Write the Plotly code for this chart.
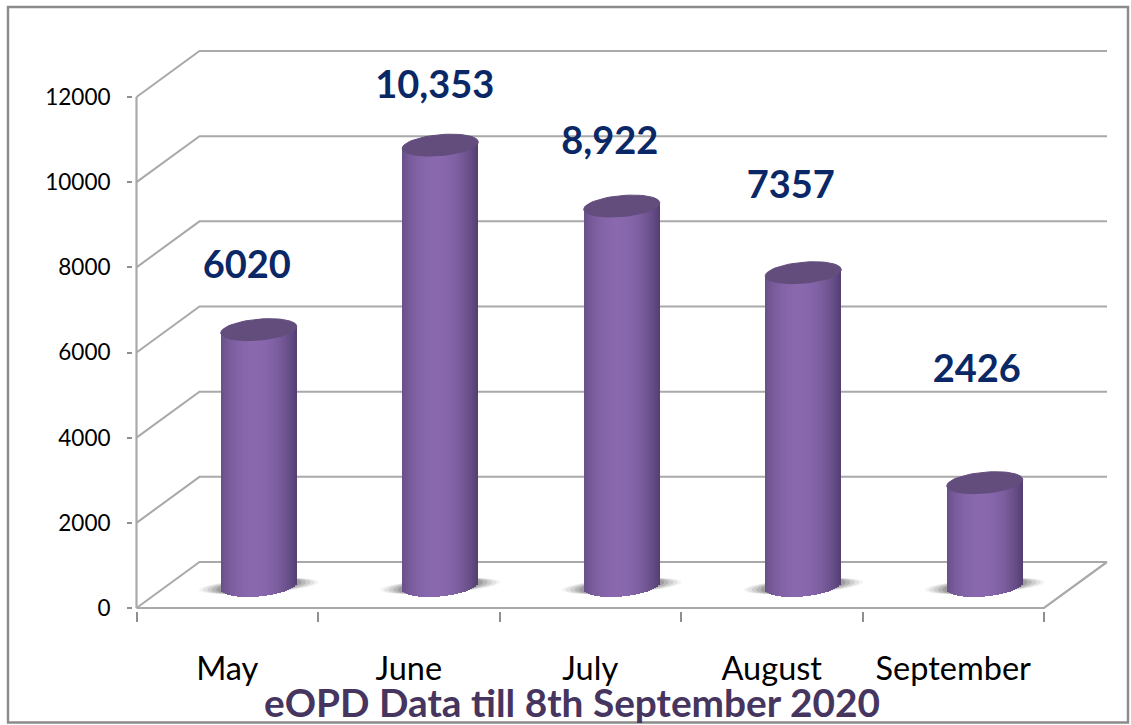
import math
import plotly.graph_objects as go

# ---- data
months = ["May", "June", "July", "August", "September"]
patients = [6020, 10353, 8922, 7357, 2426]
value_labels = ["6020", "10,353", "8,922", "7357", "2426"]
y_ticks = [0, 2000, 4000, 6000, 8000, 10000, 12000]
y_tick_labels = ["0", "2000", "4000", "6000", "8000", "10000", "12000"]
title_text = "eOPD Data till 8th September 2020"

# ---- style / geometry (pixels of the 1131x725 page)
W, H = 1131, 725
X0_PX, X_STEP_PX = 136.5, 181.5     # front edge of the floor, width of one category
Y0_PX, Y_UNIT_PX = 608.0, 511.0 / 12000
BACK_DX_PX, BACK_DY_PX = 63.0, 46.0  # depth of the back wall
RIGHT_PX = 1107.0
BAR_A, BAR_B, BAR_TILT = 38.0, 10.5, -3.2
LABEL_DX_PX = [-12, -5.5, -12, -12.5, -8]
LABEL_UP_PX = [83, 79, 84, 106, 132]
GRID = "#a9a9a9"
TICK = "#8f8f8f"
CAP = "#624d7c"
NAVY = "#0a2766"
TITLE = "#46355f"
FONT = "Lato"

# plot rectangle slightly larger than the drawing so no line gets clipped
L_PX, R_PX, T_PX, B_PX = 133.0, 1112.0, 30.0, 611.0


def xd(px):
    return (px - X0_PX) / X_STEP_PX - 0.5


def yd(px):
    return (Y0_PX - px) / Y_UNIT_PX


dx = BACK_DX_PX / X_STEP_PX
dx = 63.0 / X_STEP_PX
dy = BACK_DY_PX / Y_UNIT_PX
bar_dx = dx / 2
bar_dy = 22.0 / Y_UNIT_PX
a_x = BAR_A / X_STEP_PX
b_y = BAR_B / Y_UNIT_PX
tilt_y = -BAR_TILT / Y_UNIT_PX
n_cat = len(months)
front_end = n_cat - 0.5
back_end = xd(RIGHT_PX)
centers = [i + bar_dx for i in range(n_cat)]
tops = [v + bar_dy for v in patients]


def shade(t):
    # horizontal shading across a cylinder, t in -1..1
    u = abs(t + 0.12) / 1.12
    k = min(1.0, u) ** 2.2
    dark, light = (82, 62, 112), (137, 104, 174)
    return "rgb(%d,%d,%d)" % tuple(round(l + (d - l) * k) for d, l in zip(dark, light))


shapes = []
# gridlines on floor side and back wall
for v in y_ticks:
    shapes.append(dict(type="path", layer="below", xref="x", yref="y",
                       path=f"M -0.5 {v} L {-0.5 + dx} {v + dy} L {back_end} {v + dy}",
                       line=dict(color=GRID, width=2)))
# front and right floor edges, value axis
shapes.append(dict(type="path", layer="below", xref="x", yref="y",
                   path=f"M -0.5 0 L {front_end} 0 L {back_end} {dy}",
                   line=dict(color=GRID, width=2.2)))
shapes.append(dict(type="line", layer="below", xref="x", yref="y",
                   x0=-0.5, x1=-0.5, y0=0, y1=y_ticks[-1],
                   line=dict(color=GRID, width=2.2)))
# soft floor shadows
for c in centers:
    for scale, alpha in [(1.58, 0.06), (1.48, 0.09), (1.36, 0.12), (1.24, 0.16), (1.12, 0.2)]:
        pts = []
        for k in range(41):
            ang = 2 * math.pi * k / 40
            sx, sy = math.cos(ang), math.sin(ang)
            pts.append((c + a_x * scale * sx, bar_dy + (0.68 * b_y * sy) + 1.2 * tilt_y * sx))
        path = "M " + " L ".join(f"{p[0]} {p[1]}" for p in pts) + " Z"
        shapes.append(dict(type="path", layer="below", xref="x", yref="y", path=path,
                           fillcolor=f"rgba(60,60,60,{alpha})", line=dict(width=0)))
# frame round the picture
shapes.append(dict(type="rect", xref="paper", yref="paper",
                   x0=(8 - L_PX) / (R_PX - L_PX), x1=(1128 - L_PX) / (R_PX - L_PX),
                   y0=(B_PX - 722.5) / (B_PX - T_PX), y1=(B_PX - 7) / (B_PX - T_PX),
                   line=dict(color="#8b8b8b", width=2.4)))

fig = go.Figure()
# plain columns
fig.add_trace(go.Bar(x=centers, y=patients, base=[bar_dy] * n_cat, width=2 * a_x * 0.92,
                     marker=dict(color="#7a5e9e", line=dict(width=0)),
                     customdata=months, name="eOPD", showlegend=False,
                     hovertemplate="%{customdata}: %{y}<extra></extra>"))
# shading stripes, each following the lower rim of the cylinder
N = 38
sx, sb, sh, sc = [], [], [], []
for c, top in zip(centers, tops):
    for j in range(N):
        t = -1 + (2 * j + 1) / N
        rim = bar_dy - b_y * math.sqrt(max(0, 1 - t * t)) + tilt_y * t
        sx.append(c + a_x * t)
        sb.append(rim)
        sh.append(top + tilt_y * t - rim)
        sc.append(shade(t))
fig.add_trace(go.Bar(x=sx, y=sh, base=sb, width=2 * a_x / N * 1.15,
                     marker=dict(color=sc, line=dict(width=0)),
                     showlegend=False, hoverinfo="skip"))
# top ellipses
for c, top in zip(centers, tops):
    ex, ey = [], []
    for k in range(61):
        ang = 2 * math.pi * k / 60
        t = math.cos(ang)
        ex.append(c + a_x * t)
        ey.append(top + tilt_y * t + b_y * math.sin(ang))
    fig.add_trace(go.Scatter(x=ex, y=ey, mode="lines", fill="toself", fillcolor=CAP,
                             line=dict(color=CAP, width=1), showlegend=False, hoverinfo="skip"))
# value labels
fig.add_trace(go.Scatter(
    x=[i + bar_dx + d / X_STEP_PX for i, d in enumerate(LABEL_DX_PX)],
    y=[v + u / Y_UNIT_PX for v, u in zip(patients, LABEL_UP_PX)],
    mode="text", text=value_labels, textposition="middle center",
    textfont=dict(family=FONT, size=38, color=NAVY, weight="bold"),
    showlegend=False, hoverinfo="skip", cliponaxis=False))

fig.update_layout(
    width=W, height=H, autosize=False,
    margin=dict(l=L_PX, r=W - R_PX, t=T_PX, b=H - B_PX, pad=0),
    paper_bgcolor="white", plot_bgcolor="white",
    barmode="overlay", bargap=0, showlegend=False,
    shapes=shapes,
    font=dict(family=FONT, color="black"),
    title=dict(text=f"<b>{title_text}</b>", x=572 / W, xanchor="center",
               y=1 - 703 / H, yanchor="middle",
               font=dict(family=FONT, size=38.8, color=TITLE)),
    xaxis=dict(range=[xd(L_PX), xd(R_PX)], tickmode="array",
               tickvals=list(range(n_cat)), ticktext=months, ticks="",
               showgrid=False, zeroline=False, showline=False,
               ticklabelstandoff=35, tickfont=dict(family=FONT, size=32.5, color="black"),
               minor=dict(tickmode="array", tickvals=[i - 0.5 for i in range(n_cat + 1)],
                          ticks="outside", ticklen=10, tickwidth=2, tickcolor=TICK,
                          showgrid=False)),
    yaxis=dict(range=[yd(B_PX), yd(T_PX)], tickmode="array", tickvals=y_ticks,
               ticktext=y_tick_labels,
               ticks="outside", ticklen=5, tickwidth=2, tickcolor=TICK,
               showgrid=False, zeroline=False, showline=False,
               ticklabelstandoff=12, tickfont=dict(family=FONT, size=22.5, color="black")),
)

fig.write_html("out.html", post_script="document.body.style.margin='0';",
               config=dict(displayModeBar=False))
